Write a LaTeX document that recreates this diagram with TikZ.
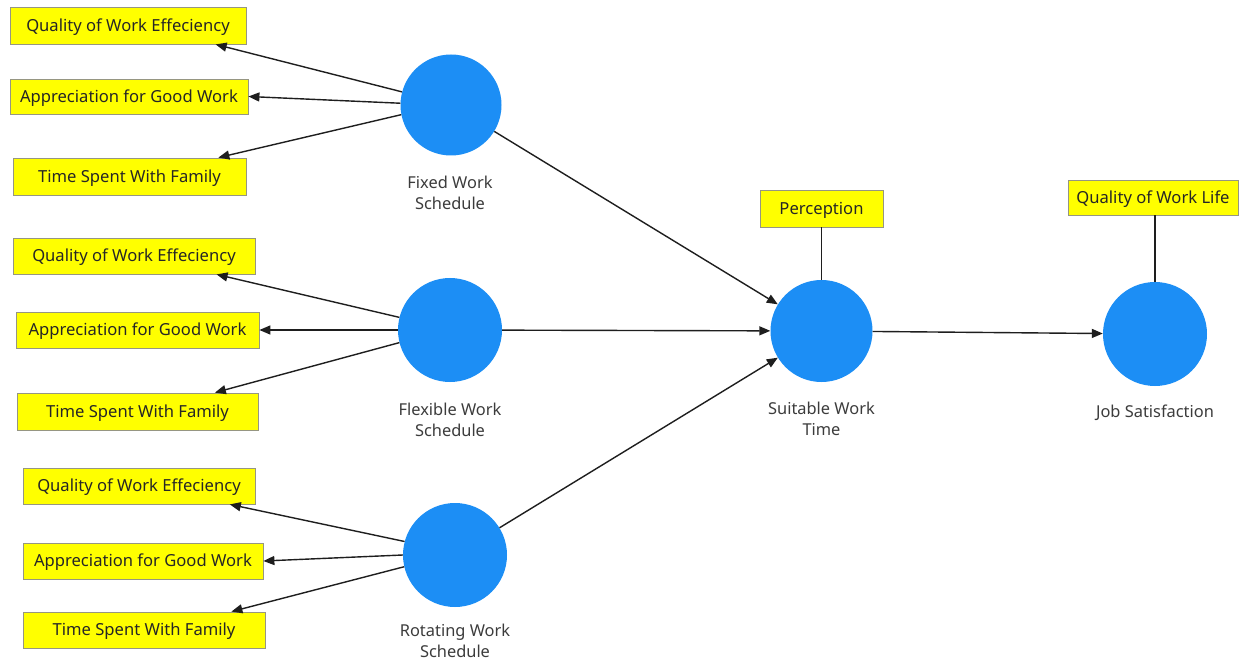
\documentclass[tikz,border=0pt]{standalone}
\usepackage{fontspec}
\setmainfont{Noto Sans}
\usetikzlibrary{arrows.meta,calc}
\definecolor{lvblue}{RGB}{28,142,245}
\definecolor{indyellow}{RGB}{255,255,0}
\definecolor{indborder}{RGB}{150,150,130}
\definecolor{labgray}{RGB}{60,60,60}
\definecolor{linegray}{RGB}{30,30,30}
\begin{document}
\begin{tikzpicture}[x=1pt,y=-1pt,
  ind/.style={draw=indborder, line width=0.8pt, fill=indyellow, inner sep=0pt, anchor=center, text depth=1pt, font=\fontsize{16.6}{19}\selectfont, text=black!85},
  lv/.style={circle, fill=lvblue, inner sep=0pt},
  lvlabel/.style={align=center, font=\fontsize{16.4}{21}\selectfont, text=labgray},
  conn/.style={draw=linegray, line width=1.4pt, -{Triangle[length=11pt,width=9pt]}},
  link/.style={draw=linegray, line width=1.3pt}]
\useasboundingbox[fill=white] (0,0) rectangle (1243,663);

% top group
\node[ind, minimum width=236pt, minimum height=37pt] (q1) at (128,25.5) {Quality of Work Effeciency};
\node[ind, minimum width=238pt, minimum height=35pt] (a1) at (129,96.5) {Appreciation for Good Work};
\node[ind, minimum width=233pt, minimum height=37pt] (t1) at (129.5,176.5) {Time Spent With Family};
\node[lv, minimum size=101pt] (c1) at (451,105) {};
\node[lvlabel] (l1) at (450,193) {Fixed Work\\Schedule};

% middle group
\node[ind, minimum width=242pt, minimum height=36pt] (q2) at (134,256) {Quality of Work Effeciency};
\node[ind, minimum width=243pt, minimum height=36pt] (a2) at (137.5,330) {Appreciation for Good Work};
\node[ind, minimum width=241pt, minimum height=37pt] (t2) at (137.5,411.5) {Time Spent With Family};
\node[lv, minimum size=104pt] (c2) at (450,330) {};
\node[lvlabel] (l2) at (450,420) {Flexible Work\\Schedule};

% bottom group
\node[ind, minimum width=232pt, minimum height=36pt] (q3) at (139,486) {Quality of Work Effeciency};
\node[ind, minimum width=240pt, minimum height=36pt] (a3) at (143,561) {Appreciation for Good Work};
\node[ind, minimum width=242pt, minimum height=36pt] (t3) at (144,630) {Time Spent With Family};
\node[lv, minimum size=104pt] (c3) at (455,555) {};
\node[lvlabel] (l3) at (455,641) {Rotating Work\\Schedule};

% right part
\node[ind, minimum width=123pt, minimum height=37pt] (per) at (821.5,208.5) {Perception};
\node[lv, minimum size=102pt] (sw) at (821.5,331) {};
\node[lvlabel] (l4) at (821.5,419) {Suitable Work\\Time};
\node[ind, minimum width=170pt, minimum height=35pt] (qwl) at (1153,197.5) {Quality of Work Life};
\node[lv, minimum size=104pt] (js) at (1155,334) {};
\node[lvlabel] (l5) at (1155,413) {Job Satisfaction};

% indicator arrows
\draw[conn] (c1.165) -- ($(q1.south west)!0.87!(q1.south east)$);
\draw[conn] (c1.178) -- (a1.east);
\draw[conn] (c1.191) -- ($(t1.north west)!0.88!(t1.north east)$);
\draw[conn] (c2.166) -- ($(q2.south west)!0.84!(q2.south east)$);
\draw[conn] (c2.180) -- (a2.east);
\draw[conn] (c2.194) -- ($(t2.north west)!0.82!(t2.north east)$);
\draw[conn] (c3.165) -- ($(q3.south west)!0.89!(q3.south east)$);
\draw[conn] (c3.180) -- (a3.east);
\draw[conn] (c3.193) -- ($(t3.north west)!0.86!(t3.north east)$);

% structural paths
\draw[conn] (c1) -- (sw);
\draw[conn] (c2) -- (sw);
\draw[conn] (c3) -- (sw);
\draw[conn] (sw) -- (js);
\draw[link] (per) -- (sw);
\draw[link] (qwl.south -| js.north) -- (js);
\end{tikzpicture}
\end{document}
